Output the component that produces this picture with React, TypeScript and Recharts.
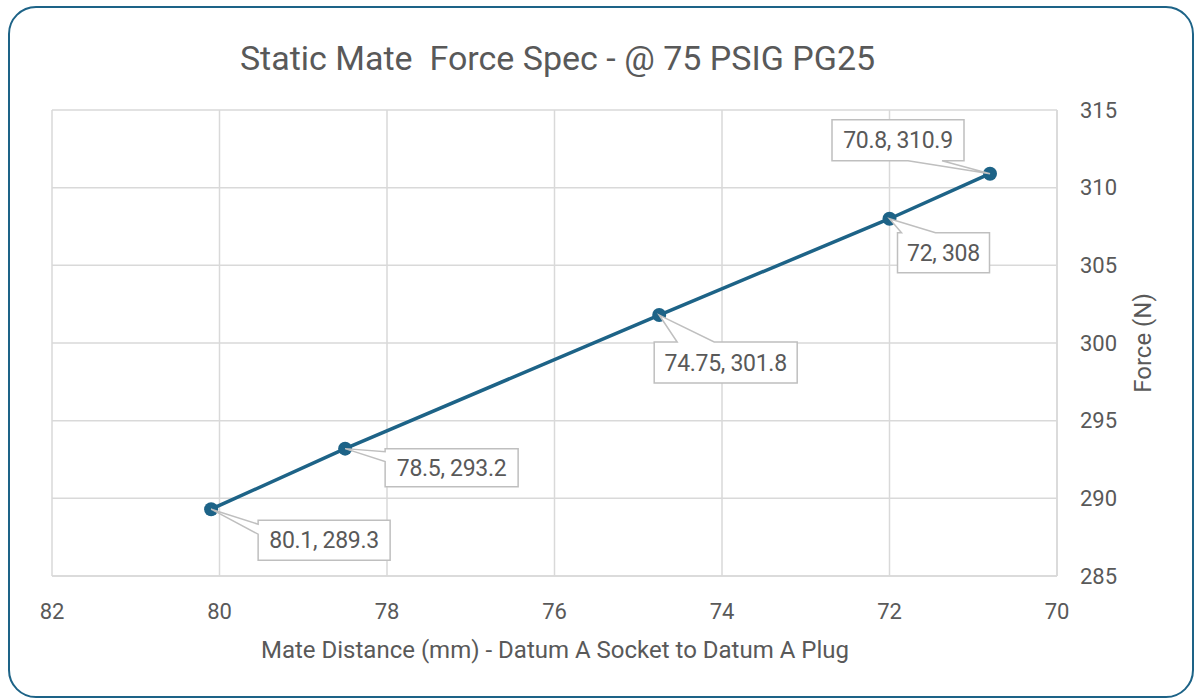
import React from "react";
import { CartesianGrid, LabelList, Line, LineChart, XAxis, YAxis } from "recharts";

const mateDistance = [80.1, 78.5, 74.75, 72, 70.8];
const mateForce = [289.3, 293.2, 301.8, 308, 310.9];
const xTicks = [82, 80, 78, 76, 74, 72, 70];
const yTicks = [285, 290, 295, 300, 305, 310, 315];

const TITLE = "Static Mate  Force Spec - @ 75 PSIG PG25";
const X_TITLE = "Mate Distance (mm) - Datum A Socket to Datum A Plug";
const Y_TITLE = "Force (N)";

const LINE = "#1d6387";
const GRID = "#d9d9d9";
const TEXT = "#595959";
const FONT = "Roboto, 'Noto Sans', sans-serif";

// where each callout box sits relative to its point, and where its pointer attaches
type Callout = { dx: number; dy: number; w: number; h: number; side: "top" | "bottom" | "left"; a: number; b: number };
const callouts: Callout[] = [
  { dx: 47, dy: 11, w: 132, h: 40, side: "left", a: 4, b: 14 },
  { dx: 40, dy: 0, w: 133, h: 38, side: "left", a: 3, b: 13 },
  { dx: -5, dy: 27, w: 143, h: 41, side: "top", a: 23, b: 60 },
  { dx: 8, dy: 14, w: 92, h: 40, side: "top", a: 4, b: 38 },
  { dx: -158, dy: -54, w: 132, h: 41, side: "bottom", a: 76, b: 110 },
];

const data = mateDistance.map((x, i) => ({ x, y: mateForce[i], label: `${x}, ${mateForce[i]}` }));

const calloutPath = (px: number, py: number, c: Callout) => {
  const l = px + c.dx;
  const t = py + c.dy;
  const r = l + c.w;
  const b = t + c.h;
  if (c.side === "top") {
    return `M${l},${t} L${l + c.a},${t} L${px},${py} L${l + c.b},${t} L${r},${t} L${r},${b} L${l},${b} Z`;
  }
  if (c.side === "bottom") {
    return `M${l},${t} L${r},${t} L${r},${b} L${l + c.b},${b} L${px},${py} L${l + c.a},${b} L${l},${b} Z`;
  }
  return `M${l},${t} L${r},${t} L${r},${b} L${l},${b} L${l},${t + c.b} L${px},${py} L${l},${t + c.a} Z`;
};

const CalloutLabel = (props: any) => {
  const { x, y, index, value } = props;
  const c = callouts[index];
  if (!c) return null;
  const px = Number(x);
  const py = Number(y);
  return (
    <g>
      <path d={calloutPath(px, py, c)} fill="#fff" stroke="#bfbfbf" strokeWidth={1.5} />
      <text
        x={px + c.dx + c.w / 2}
        y={py + c.dy + c.h / 2}
        dy="0.36em"
        textAnchor="middle"
        fontSize={23}
        letterSpacing={-0.3}
        fontFamily={FONT}
        fill={TEXT}
      >
        {value}
      </text>
    </g>
  );
};

export default function App() {
  return (
    <div style={{ position: "absolute", left: 0, top: 0, width: 1197, height: 698, background: "#fff", overflow: "hidden", fontFamily: FONT }}>
      <div
        style={{
          position: "absolute", left: 8, top: 6, width: 1182, height: 688,
          border: `2.5px solid ${LINE}`, borderRadius: 28,
        }}
      />
      <div style={{ position: "absolute", left: 0, width: 1115, top: 38, textAlign: "center", fontSize: 34, lineHeight: "40px", color: TEXT, whiteSpace: "pre" }}>
        {TITLE}
      </div>
      <div style={{ position: "absolute", left: 0, width: 1110, top: 636, textAlign: "center", fontSize: 24, lineHeight: "28px", color: TEXT }}>
        {X_TITLE}
      </div>
      <div
        style={{
          position: "absolute", left: 1143, top: 343, fontSize: 24, color: TEXT, whiteSpace: "nowrap",
          transform: "translate(-50%, -50%) rotate(-90deg)",
        }}
      >
        {Y_TITLE}
      </div>
      <div style={{ position: "absolute", left: 0, top: 0 }}>
        <LineChart width={1197} height={698} data={data} margin={{ top: 110, left: 52, right: 60, bottom: 82 }}>
          <CartesianGrid stroke={GRID} strokeWidth={1.5} />
          <XAxis
            type="number"
            dataKey="x"
            domain={[70, 82]}
            ticks={xTicks}
            reversed
            height={40}
            tickLine={false}
            tickSize={6}
            tickMargin={21}
            axisLine={{ stroke: GRID, strokeWidth: 1.5 }}
            tick={{ fontSize: 22, fill: TEXT, fontFamily: FONT }}
          />
          <YAxis
            type="number"
            dataKey="y"
            orientation="right"
            domain={[285, 315]}
            ticks={yTicks}
            width={80}
            tickLine={false}
            tickSize={6}
            tickMargin={17}
            axisLine={{ stroke: GRID, strokeWidth: 1.5 }}
            tick={{ fontSize: 22, fill: TEXT, fontFamily: FONT, textAnchor: "start" }}
          />
          <Line
            type="linear"
            dataKey="y"
            stroke={LINE}
            strokeWidth={3.5}
            dot={{ r: 7, fill: LINE, stroke: LINE, strokeWidth: 0 }}
            isAnimationActive={false}
          >
            <LabelList dataKey="label" content={<CalloutLabel />} />
          </Line>
        </LineChart>
      </div>
    </div>
  );
}
